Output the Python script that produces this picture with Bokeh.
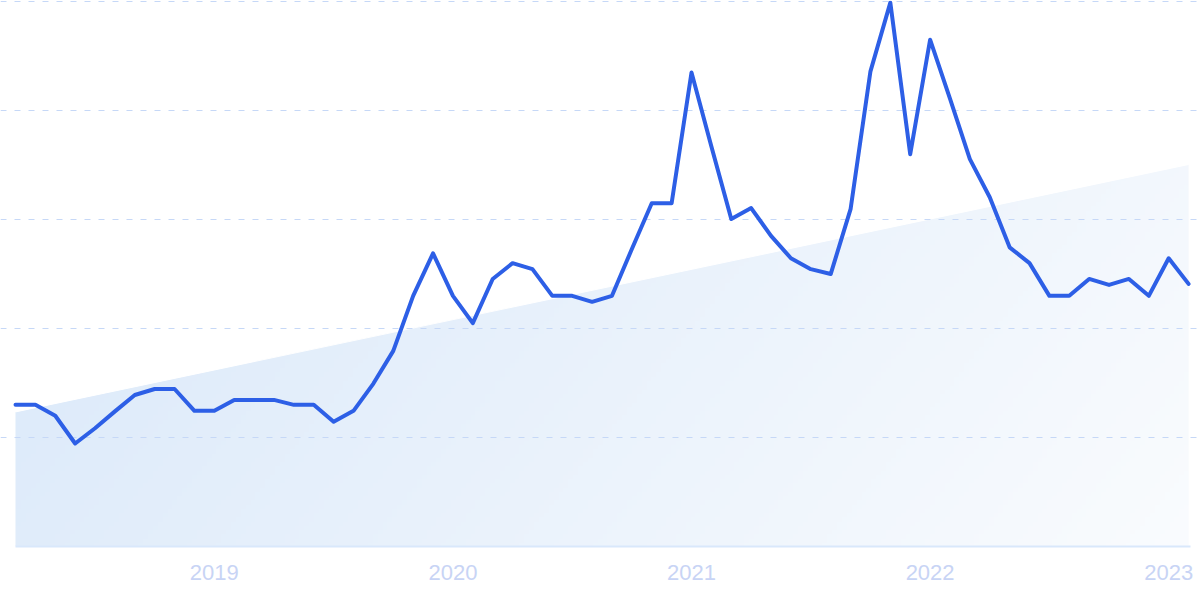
import numpy as np
from bokeh.plotting import figure
from bokeh.models import Range1d, FixedTicker
from bokeh.embed import file_html
from bokeh.resources import INLINE

# ---- data ----
months = [f"{2018 + (m // 12)}-{(m % 12) + 1:02d}" for m in range(2, 62)]  # 2018-03 .. 2023-02
values = [26.0, 26.0, 24.0, 18.9, 21.7, 24.8, 27.8, 28.9, 28.9, 24.9,
          24.9, 26.9, 26.9, 26.9, 26.0, 26.0, 22.9, 24.9, 29.9, 35.9,
          46.0, 53.8, 46.0, 41.0, 49.1, 52.0, 50.9, 46.0, 46.0, 44.9,
          46.0, 54.6, 63.0, 63.0, 87.0, 73.4, 60.1, 62.1, 57.0, 52.9,
          50.9, 50.0, 61.9, 87.2, 99.8, 72.0, 93.0, 82.2, 71.1, 64.1,
          54.9, 52.0, 46.0, 46.0, 49.1, 48.0, 49.1, 46.0, 52.9, 48.2]
year_labels = ["2019", "2020", "2021", "2022", "2023"]
trend_start = 24.7
trend_end = 70.1

x = list(range(len(values)))
x_end = len(values) - 1
tick_pos = [months.index(f"{y}-01") for y in year_labels]

p = figure(width=1200, height=599, output_backend="svg", toolbar_location=None,
           x_range=Range1d(-0.755, x_end + 0.60), y_range=Range1d(0, 100.2),
           min_border_left=0, min_border_right=0, min_border_top=0, min_border_bottom=53)
p.background_fill_color = "white"
p.border_fill_color = "white"
p.outline_line_color = None

# gradient trend area (image + white mask above trend line)
nx, ny = 240, 90
xn = np.linspace(0, 1, nx)[None, :]
yn_down = 1 - np.linspace(0, 1, ny)[:, None]
t = np.clip(0.77 * xn + 0.2 * yn_down - 0.13, 0, 1)
c0 = np.array([222, 235, 250])
img = np.zeros((ny, nx), dtype=np.uint32)
view = img.view(dtype=np.uint8).reshape((ny, nx, 4))
for k in range(3):
    view[:, :, k] = (c0[k] + (255 - c0[k]) * t).astype(np.uint8)
view[:, :, 3] = 255
r_img = p.image_rgba(image=[img], x=0, y=0, dw=x_end, dh=trend_end)
r_img.level = "image"
r_mask = p.patch([0, x_end, x_end, 0], [trend_start, trend_end, trend_end + 1, trend_end + 1],
                 fill_color="white", line_color="white", line_width=1)
r_mask.level = "image"

# main line
p.line(x, values, line_color="#2d5fe6", line_width=4, line_join="round", line_cap="round")

# axes / grid
p.yaxis.visible = False
p.xgrid.visible = False
p.ygrid.ticker = FixedTicker(ticks=[20, 40, 60, 80, 100])
p.ygrid.grid_line_color = "#c6d8f7"
p.ygrid.grid_line_dash = "6 8"
p.ygrid.grid_line_width = 1

xa = p.xaxis[0]
xa.ticker = FixedTicker(ticks=tick_pos)
xa.major_label_overrides = {pos: lab for pos, lab in zip(tick_pos, year_labels)}
xa.bounds = (0, x_end + 0.1)
xa.axis_line_color = "#d9e8fb"
xa.axis_line_width = 2
xa.major_tick_line_color = None
xa.minor_tick_line_color = None
xa.major_label_text_color = "#c8d4f5"
xa.major_label_text_font = "Liberation Sans"
xa.major_label_text_font_size = "22px"
xa.major_label_standoff = 12

open("out.html", "w").write(file_html(p, INLINE))
